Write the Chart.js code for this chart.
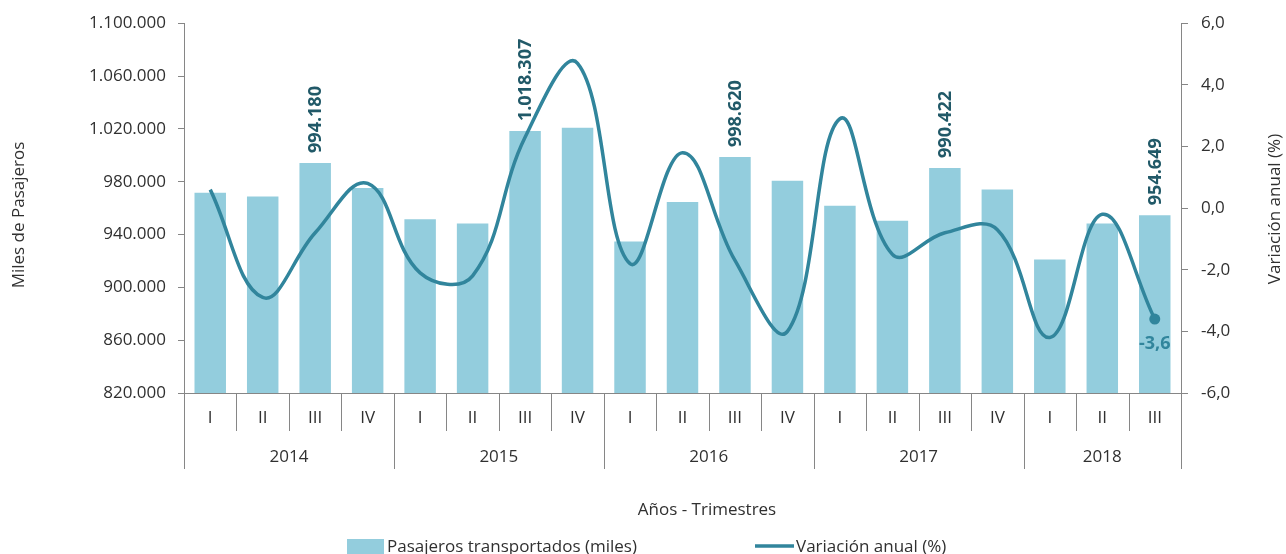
<!DOCTYPE html>
<html>
<head>
<meta charset="utf-8">
<script src="https://cdn.jsdelivr.net/npm/chart.js@4.4.1/dist/chart.umd.min.js"></script>
<style>
  html, body { margin: 0; padding: 0; background: #fff; }
  #wrap { width: 1286px; height: 554px; }
</style>
</head>
<body>
<div id="wrap"><canvas id="chart"></canvas></div>
<script>
// Pasajeros transportados por trimestre y variacion anual
const quarters = ["I","II","III","IV","I","II","III","IV","I","II","III","IV","I","II","III","IV","I","II","III"];
const years = ["2014","2015","2016","2017","2018"];
const yearSpans = [4, 4, 4, 4, 3];
const passengers = [971700, 968700, 994180, 975300, 951500, 948300, 1018307, 1020900, 934700, 964700,
                    998620, 980800, 961700, 950500, 990422, 974000, 921000, 948300, 954649];
const variation = [0.6, -2.9, -0.8, 0.8, -2.1, -2.2, 2.3, 4.7, -1.8, 1.8,
                   -1.7, -4.0, 2.9, -1.5, -0.8, -0.7, -4.2, -0.2, -3.6];
const labelled = [2, 6, 10, 14, 18];
const leftTicks = [820000, 860000, 900000, 940000, 980000, 1020000, 1060000, 1100000];
const rightTicks = [-6, -4, -2, 0, 2, 4, 6];

const FONT = "'Open Sans', sans-serif";
const TEXT = "#303030";
const AXIS = "#868686";
const BAR = "#93CDDD";
const LINE = "#31859C";

const fmtMiles = n => String(Math.round(n)).replace(/\B(?=(\d{3})+(?!\d))/g, ".");
const fmtPct = v => v.toFixed(1).replace(".", ",");

Chart.defaults.font.family = FONT;
Chart.defaults.font.size = 17;
Chart.defaults.color = TEXT;

const overlay = {
  id: "overlay",
  beforeDatasetsDraw(chart) {
    const ctx = chart.ctx;
    const bars = chart.getDatasetMeta(1).data;
    ctx.save();
    ctx.fillStyle = "#215968";
    ctx.font = "bold 18px " + FONT;
    ctx.textAlign = "left";
    ctx.textBaseline = "middle";
    labelled.forEach(i => {
      const b = bars[i];
      ctx.save();
      ctx.translate(b.x + 1, b.y - 10);
      ctx.rotate(-Math.PI / 2);
      ctx.fillText(fmtMiles(passengers[i]), 0, 0);
      ctx.restore();
    });
    ctx.restore();
  },
  afterDatasetsDraw(chart) {
    const ctx = chart.ctx;
    const pts = chart.getDatasetMeta(0).data;
    const last = pts[pts.length - 1];
    ctx.save();
    ctx.fillStyle = LINE;
    ctx.font = "bold 18px " + FONT;
    ctx.textAlign = "center";
    ctx.textBaseline = "middle";
    ctx.fillText(fmtPct(variation[variation.length - 1]), last.x, last.y + 25);
    ctx.restore();
  },
  afterDraw(chart) {
    const ctx = chart.ctx;
    const area = chart.chartArea;
    const x = chart.scales.x;
    const n = quarters.length;
    const w = (area.right - area.left) / n;
    const yearEdges = [0];
    yearSpans.forEach(s => yearEdges.push(yearEdges[yearEdges.length - 1] + s));

    ctx.save();
    ctx.strokeStyle = AXIS;
    ctx.lineWidth = 1;
    for (let i = 0; i <= n; i++) {
      const px = Math.round(area.left + i * w) + 0.5;
      const long = yearEdges.includes(i);
      ctx.beginPath();
      ctx.moveTo(px, area.bottom);
      ctx.lineTo(px, long ? 469 : 431);
      ctx.stroke();
    }

    ctx.fillStyle = TEXT;
    ctx.font = "17px " + FONT;
    ctx.textAlign = "center";
    ctx.textBaseline = "middle";
    quarters.forEach((q, i) => ctx.fillText(q, x.getPixelForValue(i), 418));
    years.forEach((y, k) => {
      const cx = area.left + (yearEdges[k] + yearEdges[k + 1]) / 2 * w;
      ctx.fillText(y, cx, 457);
    });
    ctx.fillText("Años - Trimestres", 707, 510);

    // titulos de ejes
    ctx.save();
    ctx.translate(19, 215);
    ctx.rotate(-Math.PI / 2);
    ctx.fillText("Miles de Pasajeros", 0, 0);
    ctx.restore();
    ctx.save();
    ctx.translate(1275, 209);
    ctx.rotate(-Math.PI / 2);
    ctx.fillText("Variación anual (%)", 0, 0);
    ctx.restore();

    // leyenda
    ctx.fillStyle = BAR;
    ctx.fillRect(347, 539, 37, 16);
    ctx.fillStyle = TEXT;
    ctx.textAlign = "left";
    ctx.fillText("Pasajeros transportados (miles)", 387, 547);
    ctx.strokeStyle = LINE;
    ctx.lineWidth = 3.5;
    ctx.beginPath();
    ctx.moveTo(755, 546);
    ctx.lineTo(794, 546);
    ctx.stroke();
    ctx.fillText("Variación anual (%)", 796, 547);
    ctx.restore();
  }
};

new Chart(document.getElementById("chart"), {
  type: "bar",
  data: {
    labels: quarters,
    datasets: [
      {
        type: "line",
        label: "Variación anual (%)",
        data: variation,
        yAxisID: "y1",
        borderColor: LINE,
        backgroundColor: LINE,
        borderWidth: 3.5,
        tension: 0.4,
        pointRadius: variation.map((v, i) => i === variation.length - 1 ? 5.5 : 0),
        pointBorderWidth: 0,
        order: 0,
      },
      {
        type: "bar",
        label: "Pasajeros transportados (miles)",
        data: passengers,
        yAxisID: "y",
        backgroundColor: BAR,
        barPercentage: 0.6,
        categoryPercentage: 1,
        order: 1,
      },
    ],
  },
  options: {
    responsive: true,
    maintainAspectRatio: false,
    animation: false,
    layout: { padding: { top: 22, left: 0, right: 0, bottom: 0 } },
    plugins: {
      legend: { display: false },
      tooltip: { enabled: false },
    },
    scales: {
      x: {
        ticks: { display: false },
        grid: { display: false },
        border: { display: true, color: AXIS },
        afterFit: s => { s.height = 161; },
      },
      y: {
        position: "left",
        min: 820000,
        max: 1100000,
        afterBuildTicks: s => { s.ticks = leftTicks.map(v => ({ value: v })); },
        ticks: { padding: 12, color: TEXT, callback: v => fmtMiles(v) },
        grid: { drawOnChartArea: false, drawTicks: true, tickLength: 6, color: AXIS },
        border: { color: AXIS },
        afterFit: s => { s.width = 184; },
      },
      y1: {
        position: "right",
        min: -6,
        max: 6,
        afterBuildTicks: s => { s.ticks = rightTicks.map(v => ({ value: v })); },
        ticks: { padding: 13, color: TEXT, callback: v => fmtPct(v) },
        grid: { drawOnChartArea: false, drawTicks: true, tickLength: 7, color: AXIS },
        border: { color: AXIS },
        afterFit: s => { s.width = 105; },
      },
    },
  },
  plugins: [overlay],
});
</script>
</body>
</html>
